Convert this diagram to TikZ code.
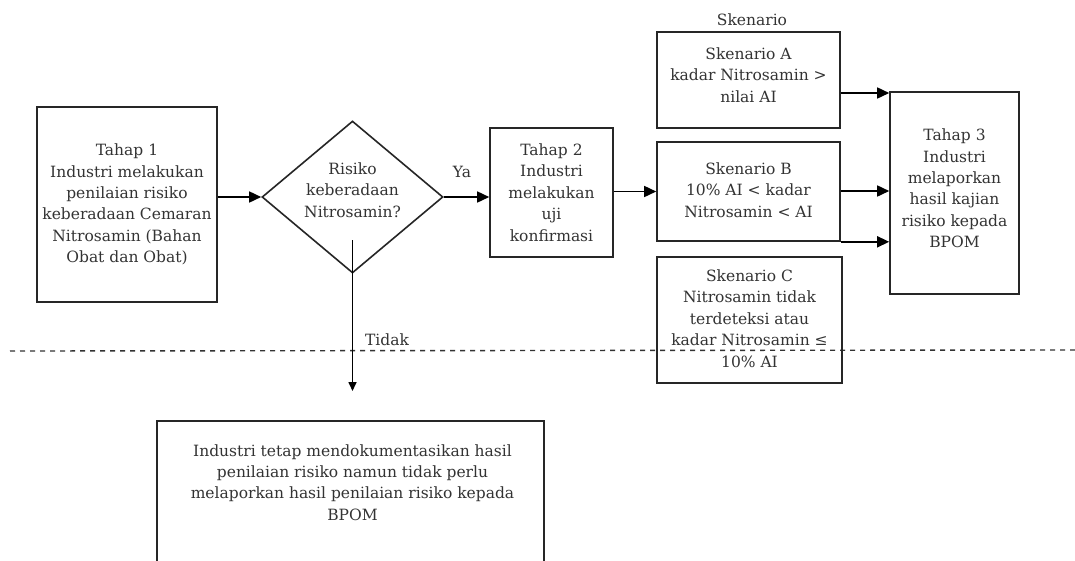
\documentclass[tikz,border=0pt]{standalone}
\usepackage{fontspec}
\setmainfont{DejaVu Serif}
\usetikzlibrary{shapes.geometric,arrows.meta}
\tikzset{
  box/.style={draw=black!85,line width=1.6pt,rectangle,inner sep=0pt},
  txt/.style={align=center,font=\fontsize{15.5}{21.4}\selectfont,text=black!80,inner sep=0pt},
  arr/.style={draw=black,line width=1.6pt,-{Triangle[length=12pt,width=11pt]}},
  lbl/.style={font=\fontsize{15.5}{18}\selectfont,text=black!80,inner sep=0pt}
}
\begin{document}
\begin{tikzpicture}[x=1pt,y=-1pt]
\useasboundingbox[fill=white] (0,0) rectangle (1075,560);
% dashed separator
\coordinate (dl) at (10,351);
\coordinate (dr) at (1075,350);
\draw[line width=1.4pt,black!80,dash pattern=on 5pt off 5pt] (dl) -- (dr);
% Tahap 1
\node[box,minimum width=180pt,minimum height=195pt] (t1) at (127,204.5) {};
\node[txt] at (t1.center) {Tahap 1\\Industri melakukan\\penilaian risiko\\keberadaan Cemaran\\Nitrosamin (Bahan\\Obat dan Obat)};
% Diamond
\node[draw=black!85,line width=1.6pt,diamond,minimum width=181pt,minimum height=152pt,inner sep=0pt] (d) at (352.5,197) {};
\node[txt] (dt) at (352.5,190) {Risiko\\keberadaan\\Nitrosamin?};
% Tahap 2
\node[box,minimum width=123pt,minimum height=129pt] (t2) at (551.5,192.5) {};
\node[txt] at (t2.center) {Tahap 2\\Industri\\melakukan\\uji\\konfirmasi};
% Skenario boxes
\node[lbl] (sk) at (752,20) {Skenario};
\node[box,minimum width=183pt,minimum height=96pt] (sa) at (748.5,80) {};
\node[txt] at (748.5,75) {Skenario A\\kadar Nitrosamin >\\nilai AI};
\node[box,minimum width=183pt,minimum height=99pt] (sb) at (748.5,191.5) {};
\node[txt] at (748.5,190) {Skenario B\\10\% AI < kadar\\Nitrosamin < AI};
\node[box,minimum width=185pt,minimum height=126pt] (sc) at (749.5,320) {};
\node[txt] at (749.5,318.5) {Skenario C\\Nitrosamin tidak\\terdeteksi atau\\kadar Nitrosamin ≤\\10\% AI};
% Tahap 3
\node[box,minimum width=129pt,minimum height=202pt] (t3) at (954.5,193) {};
\node[txt] at (954.5,188.5) {Tahap 3\\Industri\\melaporkan\\hasil kajian\\risiko kepada\\BPOM};
% Bottom box (open at the page bottom)
\node[box,minimum width=387pt,minimum height=170pt,anchor=north] (bot) at (350.5,420) {};
\node[txt] at (352.5,482.5) {Industri tetap mendokumentasikan hasil\\penilaian risiko namun tidak perlu\\melaporkan hasil penilaian risiko kepada\\BPOM};
% connectors
\draw[arr] (t1.east |- d.west) -- (d.west);
\draw[arr] (d.east) -- (t2.west |- d.east);
\node[lbl] (ya) at (462,172) {Ya};
\draw[arr] (t2.east |- sb.west) -- (sb.west);
\draw[arr] (sa.east |- 0,93) -- (t3.west |- 0,93);
\draw[arr] (sb.east |- 0,191) -- (t3.west |- 0,191);
\draw[arr] (sb.south east) -- (t3.west |- sb.south east);
\coordinate (ds) at (352.5,240);
\coordinate (de) at (352.5,391);
\draw[draw=black,line width=1.6pt,-{Triangle[length=9pt,width=8pt]}] (ds) -- (de);
\node[lbl] (tidak) at (387,340) {Tidak};
\end{tikzpicture}
\end{document}
